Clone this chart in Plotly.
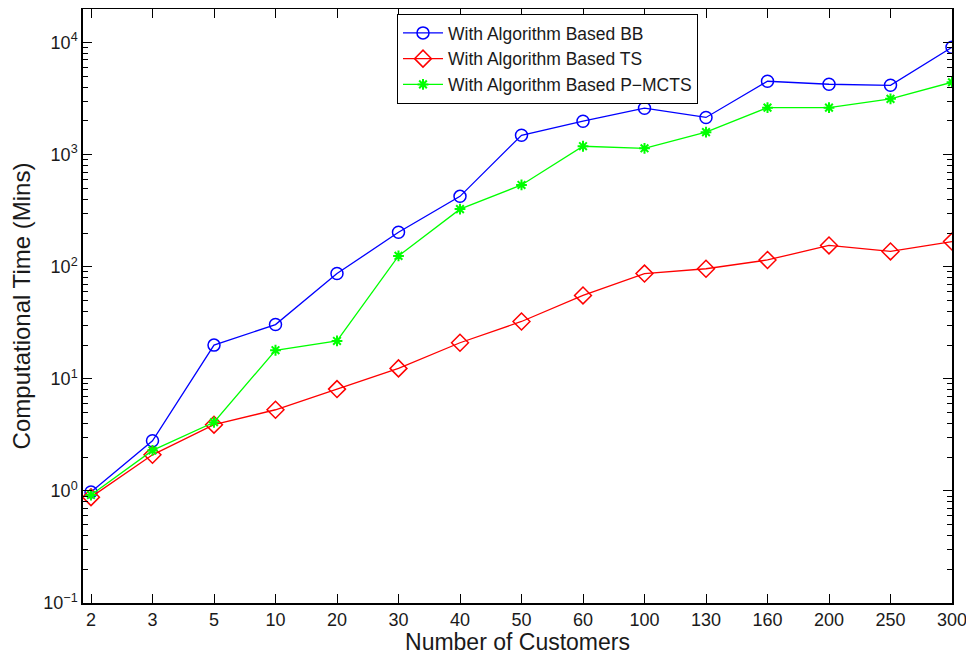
import plotly.graph_objects as go

customers = ["2", "3", "5", "10", "20", "30", "40", "50", "60", "100", "130", "160", "200", "250", "300"]
bb = [0.98, 2.8, 20, 30.5, 87, 203, 425, 1490, 1990, 2600, 2150, 4520, 4250, 4160, 9100]
ts = [0.88, 2.1, 3.9, 5.3, 8.1, 12.4, 21, 32.5, 55.5, 87, 96, 115, 155, 137, 168]
pmcts = [0.92, 2.3, 4.1, 18, 21.8, 125, 327, 537, 1190, 1140, 1590, 2630, 2630, 3150, 4430]
y_tickvals = [0.1, 1, 10, 100, 1000, 10000]
y_ticktext = ["10<sup>\u22121</sup>", "10<sup>0</sup>", "10<sup>1</sup>", "10<sup>2</sup>", "10<sup>3</sup>", "10<sup>4</sup>"]

xi = list(range(len(customers)))
font = "Liberation Sans, Arial, sans-serif"

fig = go.Figure()
fig.add_trace(go.Scatter(x=xi, y=bb, mode="lines+markers", name="With Algorithm Based BB",
                         line=dict(color="#0000ff", width=1.3),
                         marker=dict(symbol="circle-open", size=12, color="#0000ff", line=dict(width=1.5))))
fig.add_trace(go.Scatter(x=xi, y=ts, mode="lines+markers", name="With Algorithm Based TS",
                         line=dict(color="#ff0000", width=1.3),
                         marker=dict(symbol="diamond-open", size=13, color="#ff0000", line=dict(width=1.5))))
fig.add_trace(go.Scatter(x=xi, y=pmcts, mode="lines+markers", name="With Algorithm Based P\u2212MCTS",
                         line=dict(color="#00ff00", width=1.3),
                         marker=dict(symbol="asterisk-open", size=9, color="#00ff00", line=dict(width=2, color="#00ff00"))))

fig.update_layout(
    width=966, height=647,
    margin=dict(l=75, r=22, t=1, b=52),
    paper_bgcolor="white", plot_bgcolor="white",
    font=dict(family=font, color="black", size=18),
    legend=dict(x=(397 - 83) / 869, y=1 - 5 / 594, xanchor="left", yanchor="top",
                bordercolor="black", borderwidth=1, bgcolor="white",
                font=dict(size=17.5, family=font, color="#1a1a1a"), tracegroupgap=0, itemwidth=40),
    showlegend=True,
)
fig.update_xaxes(
    range=[-0.13, 14], tickmode="array", tickvals=xi, ticktext=customers,
    ticks="inside", ticklen=9, tickcolor="black", showline=True, linecolor="black", linewidth=1.5,
    mirror="ticks", showgrid=False, zeroline=False, automargin=False,
    title=dict(text="Number of Customers", font=dict(size=23, color="#1a1a1a"), standoff=9),
    tickfont=dict(size=18, color="#1a1a1a"),
)
fig.update_yaxes(
    type="log", range=[-1, 4.3], tickmode="array", tickvals=y_tickvals, ticktext=y_ticktext,
    ticks="inside", ticklen=9, tickcolor="black", showline=True, linecolor="black", linewidth=1.5,
    mirror="ticks", showgrid=False, zeroline=False, automargin=False,
    minor=dict(ticks="inside", ticklen=5, tickcolor="black", dtick="D1", showgrid=False),
    title=dict(text="Computational Time (Mins)", font=dict(size=24, color="#1a1a1a"), standoff=8),
    tickfont=dict(size=18, color="#1a1a1a"),
)

fig.write_html("out.html")
